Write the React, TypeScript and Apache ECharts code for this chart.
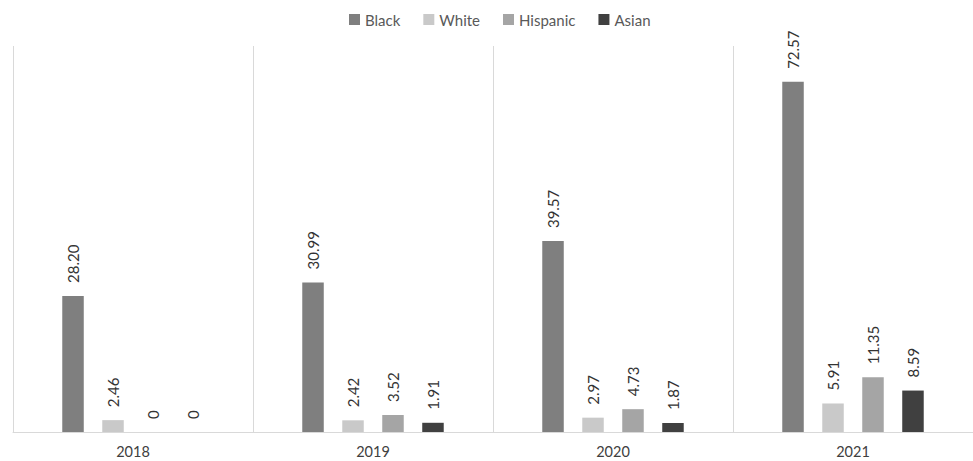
import React, { useEffect, useRef } from "react";
import * as echarts from "echarts";

const categories = ["2018", "2019", "2020", "2021"];
const seriesNames = ["Black", "White", "Hispanic", "Asian"];
const black = [28.2, 30.99, 39.57, 72.57];
const white = [2.46, 2.42, 2.97, 5.91];
const hispanic = [0, 3.52, 4.73, 11.35];
const asian = [0, 1.91, 1.87, 8.59];
const labelTexts = [
  ["28.20", "30.99", "39.57", "72.57"],
  ["2.46", "2.42", "2.97", "5.91"],
  ["0", "3.52", "4.73", "11.35"],
  ["0", "1.91", "1.87", "8.59"],
];
const colors = ["#7f7f7f", "#c9c9c9", "#a5a5a5", "#404040"];

const FONT = "Lato, 'Open Sans', sans-serif";

export default function App() {
  const ref = useRef<HTMLDivElement>(null);
  useEffect(() => {
    if (!ref.current) return;
    const chart = echarts.init(ref.current, undefined, { renderer: "svg" });
    const values = [black, white, hispanic, asian];
    chart.setOption({
      animation: false,
      backgroundColor: "#ffffff",
      textStyle: { fontFamily: FONT },
      legend: {
        top: 7,
        left: 344,
        itemWidth: 11,
        itemHeight: 11,
        itemGap: 23,
        icon: "rect",
        textStyle: { color: "#595959", fontSize: 15, fontFamily: FONT },
        data: seriesNames,
      },
      grid: { left: 13, right: 0, top: 46, bottom: 29 },
      xAxis: {
        type: "category",
        data: categories,
        axisLine: { show: true, lineStyle: { color: "#d9d9d9", width: 1 } },
        axisTick: { show: false },
        splitLine: { show: true, interval: 0, lineStyle: { color: "#d9d9d9", width: 1 } },
        axisLabel: { color: "#404040", fontSize: 14.5, fontFamily: FONT, margin: 12 },
        boundaryGap: true,
      },
      yAxis: {
        type: "value",
        min: 0,
        max: 80,
        interval: 10,
        show: false,
        splitLine: { show: false },
      },
      series: seriesNames.map((name, i) => ({
        name,
        type: "bar",
        data: values[i],
        barWidth: 21.5,
        barGap: "86%",
        itemStyle: { color: colors[i] },
        label: {
          show: true,
          position: "top",
          rotate: 90,
          align: "left",
          verticalAlign: "middle",
          distance: 13,
          color: "#333333",
          fontSize: 15,
          fontFamily: FONT,
          formatter: (p: any) => labelTexts[i][p.dataIndex],
        },
      })),
    });
    return () => chart.dispose();
  }, []);
  return (
    <div
      ref={ref}
      style={{ position: "absolute", left: 0, top: 0, width: 973, height: 461 }}
    />
  );
}
